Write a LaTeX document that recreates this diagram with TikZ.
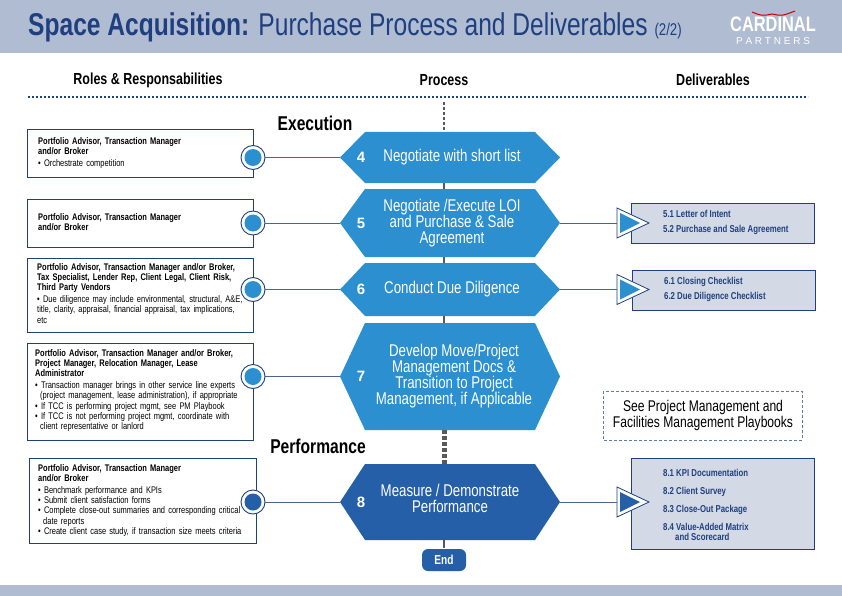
\documentclass[tikz,border=0pt]{standalone}
\usepackage{fontspec}
\setmainfont{Liberation Sans}
\newfontfamily\cond[FakeStretch=0.78]{Liberation Sans}
\usetikzlibrary{shapes.geometric,positioning}
\definecolor{band}{HTML}{B0BCD2}
\definecolor{navy}{HTML}{1F3F7F}
\definecolor{hexb}{HTML}{2B8FD0}
\definecolor{hexd}{HTML}{245FA8}
\definecolor{delb}{HTML}{D3DAE6}
\tikzset{
 role/.style={draw=navy,line width=0.8pt,fill=white},
 rtxt/.style={anchor=north west,align=left,font=\cond\fontsize{9.6}{10.2}\selectfont,text width=222pt,inner sep=0pt},
 htxt/.style={text=white,font=\cond\fontsize{17}{16}\selectfont,align=center},
 hnum/.style={text=white,font=\bfseries\fontsize{15}{15}\selectfont},
 conn/.style={draw=navy!80,line width=0.8pt},
 del/.style={draw=navy,line width=0.8pt,fill=delb},
 dtxt/.style={anchor=north west,align=left,text=navy,font=\cond\bfseries\fontsize{10}{10}\selectfont,inner sep=0pt},
 gap/.style={draw=gray!70!black,line width=2.5pt},
 head/.style={font=\cond\bfseries\fontsize{16}{16}\selectfont},
}
\newcommand{\hexshape}[4]{% y1 y2 color name
 \path[fill=#3] (340,{(#1+#2)/2}) -- (365,#1) -- (535,#1) -- (560,{(#1+#2)/2}) -- (535,#2) -- (365,#2) -- cycle;
 \coordinate (#4L) at (340,{(#1+#2)/2}); \coordinate (#4R) at (560,{(#1+#2)/2});}
\newcommand{\rolecirc}[3]{% y color name
 \node[circle,draw=navy,line width=0.9pt,fill=white,minimum size=24pt,inner sep=0pt] (#3) at (253,#1) {};
 \node[circle,fill=#2,minimum size=17pt,inner sep=0pt] at (253,#1) {};}
\newcommand{\tri}[3]{% y color name
 \path[draw=navy,line width=0.8pt,fill=white] (617,{#1-15}) -- (649,#1) -- (617,{#1+15}) -- cycle;
 \path[fill=#2] (620,{#1-10}) -- (640,#1) -- (620,{#1+10}) -- cycle;
 \coordinate (#3) at (617,#1);}
\begin{document}
\begin{tikzpicture}[x=1pt,y=-1pt]
\useasboundingbox (0,0) rectangle (842,596);
\fill[band] (0,0) rectangle (842,53);
\fill[band] (0,585) rectangle (842,596);
\node[anchor=west,text=navy,inner sep=0pt] (title) at (28,27) {\cond\fontsize{31.5}{31}\selectfont\textbf{Space Acquisition:} Purchase Process and Deliverables {\fontsize{17}{17}\selectfont(2/2)}};
\node[text=white,font=\cond\bfseries\fontsize{21}{21}\selectfont,inner sep=0pt] (logo) at (773,24) {CARDINAL};
\node[text=white,font=\fontsize{10}{10}\selectfont,inner sep=0pt] (logo2) at (773,41) {P\;A\;R\;T\;N\;E\;R\;S};
\draw[red!80!black,line width=1pt] (752,12) .. controls (762,16) .. (772,14) .. controls (782,16) .. (795,11);
\node[head] (h1) at (148,80) {Roles \& Responsabilities};
\node[head] (h2) at (444,80) {Process};
\node[head] (h3) at (713,80) {Deliverables};
\draw[navy,line width=2pt,dash pattern=on 2pt off 2pt] (28,97) -- (808,97);
% center spine
\draw[gray!70!black,line width=1.5pt,dash pattern=on 3pt off 2pt] (444,102) -- (444,132);
\draw[gap] (444,183) -- (444,189);
\draw[gap] (444,257) -- (444,263);
\draw[gap] (444,316) -- (444,323);
\draw[gray!70!black,line width=5pt,dash pattern=on 4pt off 2pt] (444,430) -- (444,464);
\draw[gap] (444,540) -- (444,548);
\node[font=\cond\bfseries\fontsize{20}{20}\selectfont] (ex) at (315,123) {Execution};
\node[font=\cond\bfseries\fontsize{20}{20}\selectfont] (pf) at (318,446) {Performance};
% hexes
\hexshape{132}{183}{hexb}{h4}
\hexshape{189}{257}{hexb}{h5}
\hexshape{263}{316}{hexb}{h6}
\hexshape{323}{430}{hexb}{h7}
\hexshape{464}{540}{hexd}{h8}
\node[hnum] at (361,157.5) {4}; \node[htxt] at (452,157.5) {Negotiate with short list};
\node[hnum] at (361,223) {5}; \node[htxt] at (452,223) {Negotiate /Execute LOI\\ and Purchase \& Sale\\ Agreement};
\node[hnum] at (361,289.5) {6}; \node[htxt] at (452,289.5) {Conduct Due Diligence};
\node[hnum] at (361,376.5) {7}; \node[htxt] at (454,376.5) {Develop Move/Project\\ Management Docs \&\\ Transition to Project\\ Management, if Applicable};
\node[hnum] at (361,502) {8}; \node[htxt] at (450,498) {Measure / Demonstrate\\ Performance};
\node[fill=hexd,rounded corners=6pt,minimum width=44pt,minimum height=22pt,text=white,font=\cond\bfseries\fontsize{13}{13}\selectfont] (end) at (444,560) {End};
% role boxes
\draw[role] (27,129) rectangle (253,177);
\node[rtxt] at (38,137) {\textbf{Portfolio Advisor, Transaction Manager\\and/or Broker}\\[2pt]\textbullet\ Orchestrate competition};
\draw[role] (27,199) rectangle (253,247);
\node[rtxt] at (38,213) {\textbf{Portfolio Advisor, Transaction Manager\\and/or Broker}};
\draw[role] (27,258) rectangle (253,332);
\node[rtxt] at (37,263) {\textbf{Portfolio Advisor, Transaction Manager and/or Broker,\\Tax Specialist, Lender Rep, Client Legal, Client Risk,\\Third Party Vendors}\\[2pt]\textbullet\ Due diligence may include environmental, structural, A\&E,\\title, clarity, appraisal, financial appraisal, tax implications,\\etc};
\draw[role] (27,343) rectangle (253,440);
\node[rtxt] at (35,349) {\textbf{Portfolio Advisor, Transaction Manager and/or Broker,\\Project Manager, Relocation Manager, Lease\\Administrator}\\[2pt]\textbullet\ Transaction manager brings in other service line experts\\\hspace*{5pt}(project management, lease administration), if appropriate\\\textbullet\ If TCC is performing project mgmt, see PM Playbook\\\textbullet\ If TCC is not performing project mgmt, coordinate with\\\hspace*{5pt}client representative or lanlord};
\draw[role] (29,458) rectangle (256,543);
\node[rtxt] at (38,464) {\textbf{Portfolio Advisor, Transaction Manager\\and/or Broker}\\[2pt]\textbullet\ Benchmark performance and KPIs\\\textbullet\ Submit client satisfaction forms\\\textbullet\ Complete close-out summaries and corresponding critical\\\hspace*{5pt}date reports\\\textbullet\ Create client case study, if transaction size meets criteria};
% circles and connectors
\rolecirc{157.5}{hexb}{d4} \rolecirc{223}{hexb}{d5} \rolecirc{289.5}{hexb}{d6} \rolecirc{376.5}{hexb}{d7} \rolecirc{502}{hexd}{d8}
\draw[conn] (d4.east) -- (h4L); \draw[conn] (d5.east) -- (h5L); \draw[conn] (d6.east) -- (h6L);
\draw[conn] (d7.east) -- (h7L); \draw[conn] (d8.east) -- (h8L);
% deliverables
\draw[del] (631,203) rectangle (814,243);
\draw[del] (632,270) rectangle (815,310);
\draw[del] (631,458) rectangle (814,549);
\tri{223}{hexb}{t5} \tri{289.5}{hexb}{t6} \tri{502}{hexd}{t8}
\draw[conn] (h5R) -- (t5); \draw[conn] (h6R) -- (t6); \draw[conn] (h8R) -- (t8);
\node[dtxt] at (663,210) {5.1 Letter of Intent\\[5pt]5.2 Purchase and Sale Agreement};
\node[dtxt] at (664,277) {6.1 Closing Checklist\\[5pt]6.2 Due Diligence Checklist};
\node[dtxt] at (663,469) {8.1 KPI Documentation\\[8pt]8.2 Client Survey\\[8pt]8.3 Close-Out Package\\[8pt]8.4 Value-Added Matrix\\\hspace*{12pt}and Scorecard};
\draw[navy!70,line width=1pt,dash pattern=on 3pt off 2pt] (603,391) rectangle (802,440);
\node[align=center,font=\cond\fontsize{15.5}{16}\selectfont] (see) at (703,415.5) {See Project Management and\\Facilities Management Playbooks};
\end{tikzpicture}
\end{document}
